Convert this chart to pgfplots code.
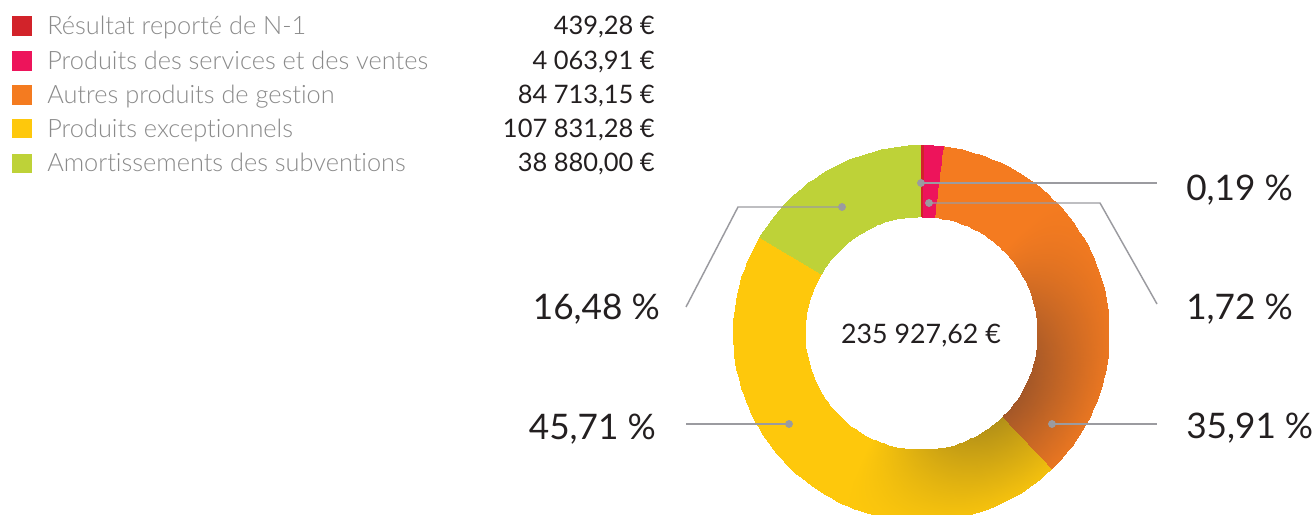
\documentclass[border=0pt]{standalone}
\usepackage{fontspec}
\setmainfont{Lato}[Ligatures=CommonOff]
\IfFontExistsTF{Lato Light}{\newfontfamily\lightfont{Lato Light}[Ligatures=CommonOff]}{\newfontfamily\lightfont{Lato}[Ligatures=CommonOff]}
\usepackage{pgfplots}
\pgfplotsset{compat=1.18}
\definecolor{cRed}{RGB}{210,35,42}
\definecolor{cPink}{RGB}{237,20,91}
\definecolor{cOrange}{RGB}{244,123,32}
\definecolor{cYellow}{RGB}{254,200,12}
\definecolor{cGreen}{RGB}{190,210,56}
\definecolor{cGrayTxt}{RGB}{138,138,138}
\definecolor{cDark}{RGB}{35,31,32}
\definecolor{cLine}{RGB}{155,155,160}
\newcommand{\legfont}{\fontsize{19.0}{21}\selectfont}
\newcommand{\valfont}{\fontsize{19.1}{21}\selectfont}
\newcommand{\cenfont}{\fontsize{20.1}{22}\selectfont}
\newcommand{\pctfont}{\fontsize{26.4}{28}\selectfont}
% darkness of the inner shadow (x = cumulative percent, y = radius)
\newcommand{\darkexpr}{max(0,cos(min(90,abs(125-3.6*x)*1.12)))*max(0,1-(y-116.5)/84)}
\begin{document}
\begin{tikzpicture}
\begin{axis}[
  view={0}{90},
  scale only axis, width=986.25pt, height=386.25pt,
  xmin=0, xmax=1315, ymin=0, ymax=515, zmin=-1, zmax=2,
  hide axis, clip=true,
  point meta min=0, point meta max=1,
]
% invisible frame so that the page covers the whole axis area
\addplot3[draw=none] coordinates {(0,0,0) (1315,0,0) (1315,515,0) (0,515,0)};
% ---- donut segments (cumulative percentages, clockwise from top) ----
% Produits des services et des ventes: 1,72 %  (0,19 -> 1,91)
\addplot3[surf, shader=interp, colormap={pk}{rgb255=(237,20,91) rgb255=(237,20,91)},
  domain=0.19:1.91, y domain=116.5:188, samples=5, samples y=2]
  ({921+y*cos(90-3.6*x)}, {182+y*sin(90-3.6*x)}, {0});
% Autres produits de gestion: 35,91 %  (1,91 -> 37,82)
\addplot3[surf, shader=interp, colormap={or}{rgb255=(244,123,32) rgb255=(163,87,40)},
  domain=1.91:37.82, y domain=116.5:188, samples=70, samples y=14]
  ({921+y*cos(90-3.6*x)}, {182+y*sin(90-3.6*x)}, {\darkexpr});
% Produits exceptionnels: 45,71 %  (37,82 -> 83,53)
\addplot3[surf, shader=interp, colormap={ye}{rgb255=(254,200,12) rgb255=(176,142,24)},
  domain=37.82:83.53, y domain=116.5:188, samples=80, samples y=14]
  ({921+y*cos(90-3.6*x)}, {182+y*sin(90-3.6*x)}, {\darkexpr});
% Amortissements des subventions: 16,48 %  (83,53 -> 100,01)
\addplot3[surf, shader=interp, colormap={gr}{rgb255=(190,210,56) rgb255=(190,210,56)},
  domain=83.53:100.01, y domain=116.5:188, samples=30, samples y=2]
  ({921+y*cos(90-3.6*x)}, {182+y*sin(90-3.6*x)}, {0});
% Resultat reporte de N-1: 0,19 %  (0 -> 0,19)
\addplot3[surf, shader=interp, colormap={rd}{rgb255=(210,35,42) rgb255=(210,35,42)},
  domain=0:0.19, y domain=116.5:188, samples=3, samples y=2]
  ({921+y*cos(90-3.6*x)}, {182+y*sin(90-3.6*x)}, {0});

% ---- leader lines ----
\addplot3[cLine, line width=1.1pt] coordinates {(921,332,0) (1157,332,0)};
\addplot3[cLine, line width=1.1pt] coordinates {(929,312,0) (1100,312,0) (1157,211,0)};
\addplot3[cLine, line width=1.1pt] coordinates {(1052,91,0) (1157,91,0)};
\addplot3[cLine, line width=1.1pt] coordinates {(789,91,0) (686,91,0)};
\addplot3[cLine, line width=1.1pt] coordinates {(842,308,0) (738,308,0) (686,208,0)};
\addplot3[only marks, mark=*, mark size=2.7pt, color=cLine] coordinates
  {(921,332,0) (929,312,0) (1052,91,0) (789,91,0) (842,308,0)};

% ---- legend squares ----
\addplot3[only marks, mark=square*, mark size=7.1pt, color=cRed]    coordinates {(21.5,488.8,0)};
\addplot3[only marks, mark=square*, mark size=7.1pt, color=cPink]   coordinates {(21.5,454.5,0)};
\addplot3[only marks, mark=square*, mark size=7.1pt, color=cOrange] coordinates {(21.5,420.5,0)};
\addplot3[only marks, mark=square*, mark size=7.1pt, color=cYellow] coordinates {(21.5,386.7,0)};
\addplot3[only marks, mark=square*, mark size=7.1pt, color=cGreen]  coordinates {(21.5,351.7,0)};

% ---- legend texts ----
\begin{scope}[every node/.style={inner sep=0pt}]
\node[anchor=base west, text=cGrayTxt, font=\lightfont\legfont] at (axis cs:47,480,0) {Résultat reporté de N-1};
\node[anchor=base west, text=cGrayTxt, font=\lightfont\legfont] at (axis cs:47,445.7,0) {Produits des services et des ventes};
\node[anchor=base west, text=cGrayTxt, font=\lightfont\legfont] at (axis cs:47,411.7,0) {Autres produits de gestion};
\node[anchor=base west, text=cGrayTxt, font=\lightfont\legfont] at (axis cs:47,377.7,0) {Produits exceptionnels};
\node[anchor=base west, text=cGrayTxt, font=\lightfont\legfont] at (axis cs:47,343.3,0) {Amortissements des subventions};
\node[anchor=base east, text=cDark, font=\valfont] at (axis cs:655,480,0) {439,28 €};
\node[anchor=base east, text=cDark, font=\valfont] at (axis cs:655,445.7,0) {4 063,91 €};
\node[anchor=base east, text=cDark, font=\valfont] at (axis cs:655,411.7,0) {84 713,15 €};
\node[anchor=base east, text=cDark, font=\valfont] at (axis cs:655,377.7,0) {107 831,28 €};
\node[anchor=base east, text=cDark, font=\valfont] at (axis cs:655,343.3,0) {38 880,00 €};
% ---- percentage labels ----
\node[anchor=base west, text=cDark, font=\pctfont] at (axis cs:1186,314.3,0) {0,19 \%};
\node[anchor=base west, text=cDark, font=\pctfont] at (axis cs:1186,195.7,0) {1,72 \%};
\node[anchor=base west, text=cDark, font=\pctfont] at (axis cs:1186,76.7,0) {35,91 \%};
\node[anchor=base east, text=cDark, font=\pctfont] at (axis cs:660,195.7,0) {16,48 \%};
\node[anchor=base east, text=cDark, font=\pctfont] at (axis cs:656,75.7,0) {45,71 \%};
% ---- centre total ----
\node[anchor=base, text=cDark, font=\cenfont] at (axis cs:921,171.7,0) {235 927,62 €};
\end{scope}
\end{axis}
\end{tikzpicture}
\end{document}
